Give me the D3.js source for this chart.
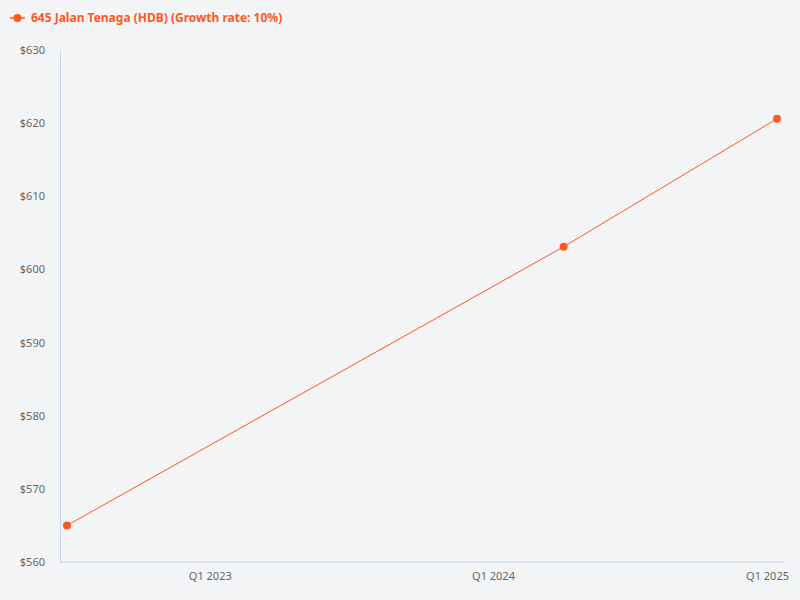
<!DOCTYPE html>
<html>
<head>
<meta charset="utf-8">
<script src="https://cdn.jsdelivr.net/npm/d3@7"></script>
<style>
  html, body { margin: 0; padding: 0; background: #f3f4f6; }
  svg { display: block; font-family: "Noto Sans", "Open Sans", sans-serif; }
</style>
</head>
<body>
<svg id="chart"></svg>
<script>
const seriesName = '645 Jalan Tenaga (HDB) (Growth rate: 10%)';
const dates = ['2022-07-01', '2024-04-01', '2025-01-01'];
const prices = [565, 603.1, 620.6];
const tickDates = ['2023-01-01', '2024-01-01', '2025-01-01'];
const tickLabels = ['Q1 2023', 'Q1 2024', 'Q1 2025'];

const width = 800;
const height = 600;
const margin = { top: 50, right: 15, bottom: 38, left: 60 };
const color = '#ff5722';
const axisColor = '#c9d5e6';
const font = '"Noto Sans", "Open Sans", sans-serif';

const svg = d3.select('#chart').attr('width', width).attr('height', height);

const parse = d3.timeParse('%Y-%m-%d');
const data = dates.map((d, i) => ({ date: parse(d), value: prices[i] }));

const x = d3
  .scaleTime()
  .domain(d3.extent(data, (d) => d.date))
  .range([margin.left + 7, width - margin.right - 8]);

const y = d3
  .scaleLinear()
  .domain([560, 630])
  .range([height - margin.bottom, margin.top]);

// y axis
const yAxis = svg
  .append('g')
  .attr('transform', `translate(${margin.left},0)`)
  .call(d3.axisLeft(y).tickValues(d3.range(560, 631, 10)).tickSize(0).tickPadding(15).tickFormat((d) => `$${d}`))
  .attr('font-family', font)
  .attr('font-size', 11);
yAxis.select('.domain').attr('stroke', axisColor);
yAxis.selectAll('text').attr('fill', '#666');

// x axis
const xAxis = svg
  .append('g')
  .attr('transform', `translate(0,${height - margin.bottom})`)
  .call(
    d3
      .axisBottom(x)
      .tickValues(tickDates.map(parse))
      .tickSize(0)
      .tickPadding(10)
      .tickFormat((d, i) => tickLabels[i])
  )
  .attr('font-family', font)
  .attr('font-size', 11);
xAxis.select('.domain').attr('stroke', axisColor).attr('d', `M${margin.left},0H${width - margin.right}`);
xAxis.selectAll('text').attr('fill', '#666');
// keep the last label inside the canvas
xAxis.selectAll('.tick').each(function () {
  const t = d3.select(this).select('text');
  const box = this.getBBox();
  const tx = +d3.select(this).attr('transform').match(/translate\(([^,]+)/)[1];
  const over = tx + box.width / 2 - (width - 11);
  if (over > 0) t.attr('x', -over);
});

// line
const line = d3
  .line()
  .x((d) => x(d.date))
  .y((d) => y(d.value));

svg
  .append('path')
  .datum(data)
  .attr('fill', 'none')
  .attr('stroke', color)
  .attr('stroke-width', 1)
  .attr('d', line);

svg
  .selectAll('circle.pt')
  .data(data)
  .enter()
  .append('circle')
  .attr('class', 'pt')
  .attr('cx', (d) => x(d.date))
  .attr('cy', (d) => y(d.value))
  .attr('r', 4)
  .attr('fill', color);

// legend
const legend = svg.append('g').attr('transform', 'translate(10,18)');
legend.append('line').attr('x1', 0).attr('x2', 15).attr('stroke', color).attr('stroke-width', 1.5);
legend.append('circle').attr('cx', 7.5).attr('r', 4).attr('fill', color);
legend
  .append('text')
  .attr('x', 21)
  .attr('dy', '0.35em')
  .attr('fill', color)
  .style('font-size', '12px')
  .style('font-weight', 'bold')
  .text(seriesName);
</script>
</body>
</html>
